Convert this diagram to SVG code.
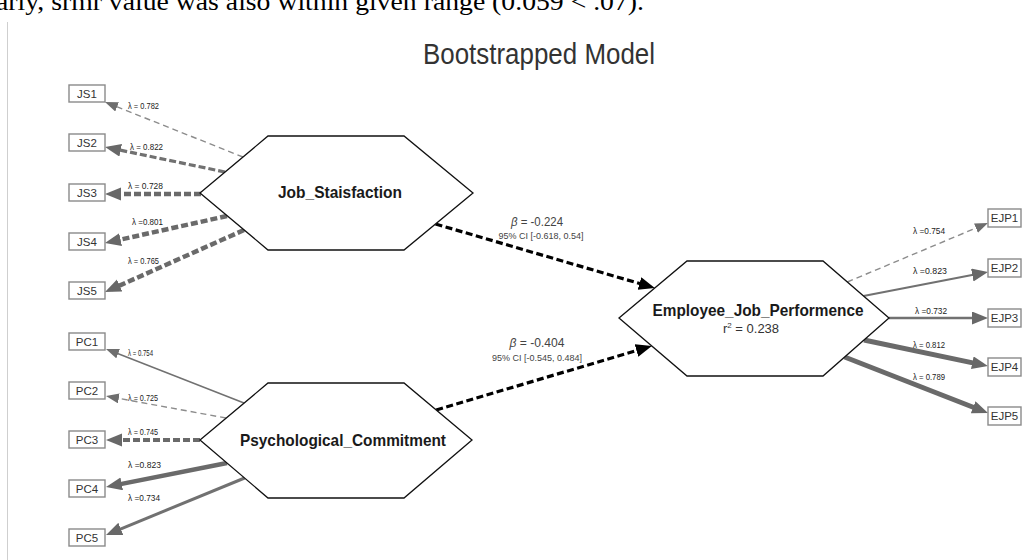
<svg xmlns="http://www.w3.org/2000/svg" width="1022" height="560" viewBox="0 0 1022 560">
<style>
.box{fill:#fff;stroke:#8a8a8a;stroke-width:1.4}
.bt{font-family:"Liberation Sans",Arial,sans-serif;font-size:11.5px;fill:#333;text-anchor:middle}
.lam{font-family:"Liberation Sans",Arial,sans-serif;font-size:8.5px;fill:#222}
.hex{fill:#fff;stroke:#111;stroke-width:1.3}
.ht{font-family:"Liberation Sans",Arial,sans-serif;font-weight:bold;font-size:16.5px;fill:#1a1a1a;text-anchor:middle}
.ln{fill:none;stroke:#717171}
.thin{stroke-width:1.4;stroke:#8c8c8c}
.med{stroke-width:2.4}
.thk{stroke-width:4.5;stroke:#6a6a6a}
.d1{stroke-dasharray:6 4}
.d2{stroke-dasharray:7 3}
.st{fill:none;stroke:#000;stroke-width:3.2;stroke-dasharray:7 3.5}
.pl{font-family:"Liberation Sans",Arial,sans-serif;fill:#444;text-anchor:middle}
</style>
<defs>
<marker id="as" markerUnits="userSpaceOnUse" markerWidth="14" markerHeight="11" refX="6" refY="5" orient="auto"><path d="M0,0 L13,5 L0,10 z" fill="#6e6e6e"/></marker>
<marker id="al" markerUnits="userSpaceOnUse" markerWidth="17" markerHeight="14" refX="9" refY="6.5" orient="auto"><path d="M0,0 L16,6.5 L0,13 z" fill="#686868"/></marker>
<marker id="ab" markerUnits="userSpaceOnUse" markerWidth="17" markerHeight="14" refX="9" refY="6.5" orient="auto"><path d="M0,0 L16,6.5 L0,13 z" fill="#000"/></marker>
</defs>
<rect x="0" y="0" width="1022" height="560" fill="#fff"/>
<text x="-4" y="10" font-family="'Liberation Serif','Times New Roman',serif" font-size="26" fill="#000" textLength="648" lengthAdjust="spacingAndGlyphs">arly, srmr value was also within given range (0.059 &lt; .07).</text>
<line x1="7.5" y1="22" x2="7.5" y2="560" stroke="#cfcfcf" stroke-width="1"/>
<text x="539" y="64" font-family="'Liberation Sans',Arial,sans-serif" font-size="29" fill="#333" text-anchor="middle" textLength="232" lengthAdjust="spacingAndGlyphs">Bootstrapped Model</text>

<g id="connectors">
<line class="ln thin d1" x1="243" y1="157" x2="111.5" y2="104.6" marker-end="url(#as)"/>
<line class="ln med d2" style="stroke-width:3.2" x1="225" y1="172" x2="111.9" y2="148.4" marker-end="url(#al)"/>
<line class="ln thk d2" x1="201" y1="194" x2="112" y2="194" marker-end="url(#al)"/>
<line class="ln thk d2" x1="227" y1="216" x2="111.8" y2="241.5" marker-end="url(#al)"/>
<line class="ln thk d2" x1="244" y1="230" x2="111.4" y2="289.2" marker-end="url(#al)"/>

<line class="ln" style="stroke-width:1.5" x1="244" y1="403" x2="112.5" y2="351.5" marker-end="url(#as)"/>
<line class="ln thin d1" x1="226" y1="418" x2="112.9" y2="397.3" marker-end="url(#as)"/>
<line class="ln thk d2" style="stroke-width:4" x1="200" y1="440" x2="113" y2="440" marker-end="url(#al)"/>
<line class="ln thk" x1="227" y1="463" x2="112.9" y2="485.6" marker-end="url(#al)"/>
<line class="ln" style="stroke-width:3" x1="244.6" y1="478" x2="112.5" y2="532.3" marker-end="url(#al)"/>

<line class="ln thin d1" x1="847.3" y1="282" x2="981.5" y2="225.7" marker-end="url(#as)"/>
<line class="ln" style="stroke-width:2" x1="863.5" y1="296" x2="981.1" y2="273.3" marker-end="url(#al)"/>
<line class="ln" style="stroke-width:2.4" x1="889" y1="318" x2="981" y2="318" marker-end="url(#al)"/>
<line class="ln thk" style="stroke-width:5" x1="864" y1="340" x2="981.1" y2="364.6" marker-end="url(#al)"/>
<line class="ln thk" style="stroke-width:5" x1="844.6" y1="357" x2="981.5" y2="410.5" marker-end="url(#al)"/>

<line class="st" x1="435.5" y1="224" x2="648.1" y2="286" marker-end="url(#ab)"/>
<line class="st" x1="436.2" y1="410" x2="645.1" y2="348" marker-end="url(#ab)"/>

<text class="lam" x="128" y="109" textLength="31" lengthAdjust="spacingAndGlyphs">λ = 0.782</text>
<text class="lam" x="130" y="150" textLength="33" lengthAdjust="spacingAndGlyphs">λ = 0.822</text>
<text class="lam" x="128" y="189" textLength="35" lengthAdjust="spacingAndGlyphs">λ = 0.728</text>
<text class="lam" x="132" y="225" textLength="31" lengthAdjust="spacingAndGlyphs">λ =0.801</text>
<text class="lam" x="128" y="264" textLength="31" lengthAdjust="spacingAndGlyphs">λ = 0.765</text>
<text class="lam" x="128" y="356" textLength="25" lengthAdjust="spacingAndGlyphs">λ = 0.754</text>
<text class="lam" x="128" y="401" textLength="30" lengthAdjust="spacingAndGlyphs">λ = 0.725</text>
<text class="lam" x="128" y="435" textLength="30" lengthAdjust="spacingAndGlyphs">λ = 0.745</text>
<text class="lam" x="128" y="468" textLength="33" lengthAdjust="spacingAndGlyphs">λ =0.823</text>
<text class="lam" x="128" y="501" textLength="32" lengthAdjust="spacingAndGlyphs">λ =0.734</text>
<text class="lam" x="913" y="234" textLength="32" lengthAdjust="spacingAndGlyphs">λ =0.754</text>
<text class="lam" x="913" y="274" textLength="34" lengthAdjust="spacingAndGlyphs">λ =0.823</text>
<text class="lam" x="915" y="314" textLength="32" lengthAdjust="spacingAndGlyphs">λ =0.732</text>
<text class="lam" x="913" y="348" textLength="32" lengthAdjust="spacingAndGlyphs">λ = 0.812</text>
<text class="lam" x="913" y="380" textLength="32" lengthAdjust="spacingAndGlyphs">λ = 0.789</text>

<text class="pl" x="537" y="226" font-size="12" textLength="52" lengthAdjust="spacingAndGlyphs"><tspan font-style="italic">β</tspan> = -0.224</text>
<text class="pl" x="541" y="239" font-size="8.5" textLength="85" lengthAdjust="spacingAndGlyphs">95% CI [-0.618, 0.54]</text>
<text class="pl" x="537" y="347" font-size="12" textLength="55" lengthAdjust="spacingAndGlyphs"><tspan font-style="italic">β</tspan> = -0.404</text>
<text class="pl" x="537" y="361" font-size="8.5" textLength="90" lengthAdjust="spacingAndGlyphs">95% CI [-0.545, 0.484]</text>
</g>

<g id="JS1"><rect class="box" x="69" y="85" width="36" height="17"/><text class="bt" x="87" y="98">JS1</text></g>
<g id="JS2"><rect class="box" x="69" y="134" width="36" height="17"/><text class="bt" x="87" y="147">JS2</text></g>
<g id="JS3"><rect class="box" x="69" y="184" width="36" height="17"/><text class="bt" x="87" y="197">JS3</text></g>
<g id="JS4"><rect class="box" x="69" y="233" width="36" height="17"/><text class="bt" x="87" y="246">JS4</text></g>
<g id="JS5"><rect class="box" x="69" y="282" width="36" height="17"/><text class="bt" x="87" y="295">JS5</text></g>

<g id="PC1"><rect class="box" x="69" y="333" width="36" height="17"/><text class="bt" x="87" y="346">PC1</text></g>
<g id="PC2"><rect class="box" x="69" y="382" width="36" height="17"/><text class="bt" x="87" y="395">PC2</text></g>
<g id="PC3"><rect class="box" x="69" y="431" width="36" height="17"/><text class="bt" x="87" y="444">PC3</text></g>
<g id="PC4"><rect class="box" x="69" y="480" width="36" height="17"/><text class="bt" x="87" y="493">PC4</text></g>
<g id="PC5"><rect class="box" x="69" y="529" width="36" height="17"/><text class="bt" x="87" y="542">PC5</text></g>

<g id="EJP1"><rect class="box" x="988" y="209" width="33" height="18"/><text class="bt" x="1004.5" y="222">EJP1</text></g>
<g id="EJP2"><rect class="box" x="988" y="259" width="33" height="18"/><text class="bt" x="1004.5" y="272">EJP2</text></g>
<g id="EJP3"><rect class="box" x="988" y="309" width="33" height="18"/><text class="bt" x="1004.5" y="322">EJP3</text></g>
<g id="EJP4"><rect class="box" x="988" y="358" width="33" height="18"/><text class="bt" x="1004.5" y="371">EJP4</text></g>
<g id="EJP5"><rect class="box" x="988" y="407" width="33" height="18"/><text class="bt" x="1004.5" y="420">EJP5</text></g>

<g id="Job_Staisfaction">
<polygon class="hex" points="200,193 268,136 404,136 473,193 404,250 268,250"/>
<text class="ht" x="340" y="198" textLength="124" lengthAdjust="spacingAndGlyphs">Job_Staisfaction</text>
</g>
<g id="Psychological_Commitment">
<polygon class="hex" points="200,440 268,383 404,383 472,440 404,498 268,498"/>
<text class="ht" x="343" y="446" textLength="206" lengthAdjust="spacingAndGlyphs">Psychological_Commitment</text>
</g>
<g id="Employee_Job_Performence">
<polygon class="hex" points="619,318 687,261 823,261 889,318 823,376 687,376"/>
<text class="ht" x="758" y="316" textLength="211" lengthAdjust="spacingAndGlyphs">Employee_Job_Performence</text>
<text x="751" y="333" font-family="'Liberation Sans',Arial,sans-serif" font-size="13" fill="#333" text-anchor="middle">r<tspan font-size="8" dy="-5">2</tspan><tspan dy="5"> = 0.238</tspan></text>
</g>
</svg>
